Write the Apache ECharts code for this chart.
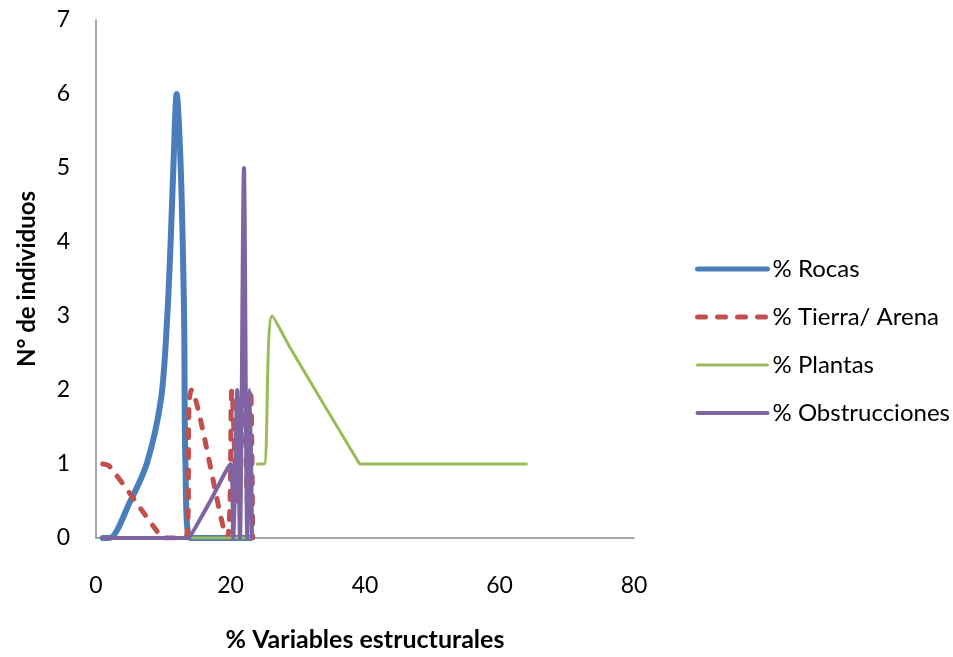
<!DOCTYPE html>
<html>
<head>
<meta charset="utf-8">
<script src="https://cdn.jsdelivr.net/npm/echarts@6/dist/echarts.min.js"></script>
<style>
html,body{margin:0;padding:0;background:#fff;}
#chart{width:953px;height:657px;}
</style>
</head>
<body>
<div id="chart"></div>
<script>
var seriesNames = ['% Rocas', '% Tierra/ Arena', '% Plantas', '% Obstrucciones'];
var rocasX = [1, 2, 5, 7.6, 9.7, 10.6, 11.1, 11.5, 12, 12.6, 13.1, 13.3, 14, 23];
var rocasY = [0, 0, 0.48, 1.02, 1.9, 3, 4, 5, 6, 5, 3, 1, 0, 0];
var tierraX = [1, 2, 9, 10, 13.3, 14.2, 19.5, 20.2, 21, 22, 22.5, 23, 23.3];
var tierraY = [1, 0.97, 0.1, 0, 0, 2, 0, 2, 0.5, 2, 0.5, 2, 0];
var plantasX = [14, 23, null, 24, 25, 26.2, 29, 38.8, 39.3, 40, 64];
var plantasY = [0, 0, null, 1, 1, 3, 2.55, 1.06, 1, 1, 1];
var obstX = [1, 13.9, 14, 17, 20, 20.4, 21, 21.4, 22, 22.5, 22.9, 23.2];
var obstY = [0, 0, 0, 0.5, 1, 0, 2, 0, 5, 0, 2, 0];
var xTicks = [0, 20, 40, 60, 80];
var yTicks = [0, 1, 2, 3, 4, 5, 6, 7];

function pairs(xs, ys) {
  return xs.map(function (x, i) { return x === null ? ['-', '-'] : [x, ys[i]]; });
}

var colors = ['#4a7ebb', '#c0504d', '#9bbb59', '#8064a2'];
var widths = [6, 5, 3, 4];
var font = 'Lato, "Open Sans", "DejaVu Sans", sans-serif';
var chart = echarts.init(document.getElementById('chart'));
chart.setOption({
  animation: false,
  backgroundColor: '#fff',
  grid: { left: 96, right: 319, top: 20, bottom: 109, containLabel: false },
  legend: {
    orient: 'vertical', left: 690, top: 252,
    itemWidth: 70, itemHeight: 14, itemGap: 24,
    itemStyle: { opacity: 0 },
    textStyle: { fontFamily: font, fontSize: 24, color: '#000', lineHeight: 24 },
    data: seriesNames.map(function (n, i) {
      return { name: n, itemStyle: { opacity: 0 },
        lineStyle: { width: i === 0 ? 5 : widths[i], color: colors[i], type: i === 1 ? [8, 12] : 'solid', cap: 'round' } };
    })
  },
  xAxis: {
    type: 'value', min: xTicks[0], max: xTicks[xTicks.length - 1], interval: 20,
    name: '% Variables estructurales', nameLocation: 'middle', nameGap: 89,
    nameTextStyle: { fontFamily: font, fontSize: 25, fontWeight: 'bold', color: '#000' },
    axisLine: { lineStyle: { color: '#8c8c8c', width: 1.5 } },
    axisTick: { show: false },
    splitLine: { show: false },
    axisLabel: { fontFamily: font, fontSize: 23, color: '#000', margin: 36 }
  },
  yAxis: {
    type: 'value', min: yTicks[0], max: yTicks[yTicks.length - 1], interval: 1,
    name: 'N° de individuos', nameLocation: 'middle', nameGap: 57,
    nameTextStyle: { fontFamily: font, fontSize: 24, fontWeight: 'bold', color: '#000' },
    axisLine: { show: true, lineStyle: { color: '#8c8c8c', width: 1.5 } },
    axisTick: { show: false },
    splitLine: { show: false },
    axisLabel: { fontFamily: font, fontSize: 23, color: '#000', margin: 26 }
  },
  series: [
    { name: seriesNames[0], type: 'line', smooth: 0.3, showSymbol: false, symbol: 'none',
      data: pairs(rocasX, rocasY), color: colors[0],
      lineStyle: { color: colors[0], width: widths[0], cap: 'round', join: 'round' } },
    { name: seriesNames[1], type: 'line', smooth: 0.3, showSymbol: false, symbol: 'none',
      data: pairs(tierraX, tierraY), color: colors[1],
      lineStyle: { color: colors[1], width: widths[1], type: [8, 12], cap: 'round', join: 'round' } },
    { name: seriesNames[2], type: 'line', smooth: 0.3, showSymbol: false, symbol: 'none',
      data: pairs(plantasX, plantasY), color: colors[2], connectNulls: false,
      lineStyle: { color: colors[2], width: widths[2], cap: 'round', join: 'round' } },
    { name: seriesNames[3], type: 'line', smooth: 0.3, showSymbol: false, symbol: 'none',
      data: pairs(obstX, obstY), color: colors[3],
      lineStyle: { color: colors[3], width: widths[3], cap: 'round', join: 'round' } }
  ]
});
</script>
</body>
</html>
